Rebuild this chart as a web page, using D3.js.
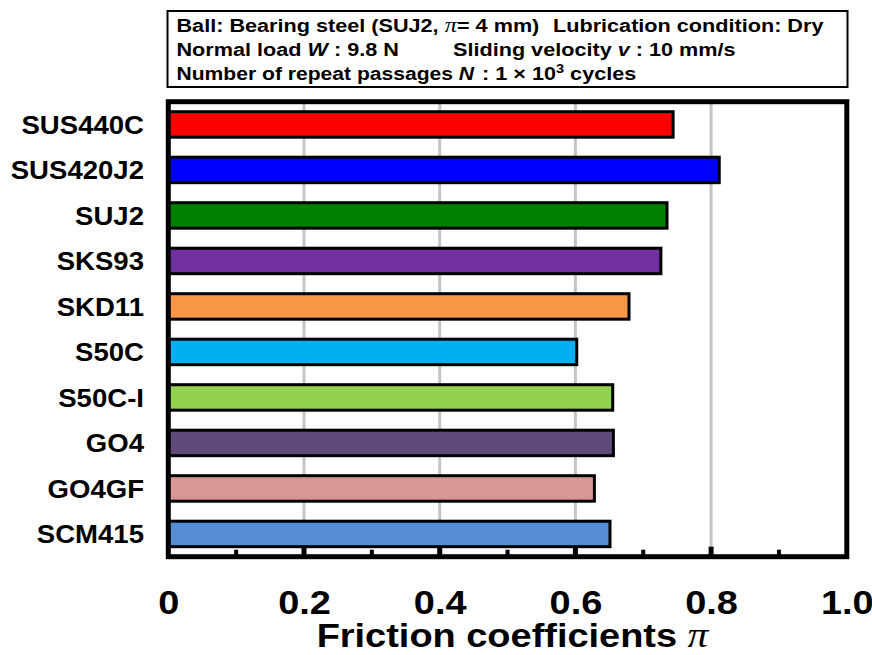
<!DOCTYPE html>
<html><head><meta charset="utf-8">
<script src="https://cdn.jsdelivr.net/npm/d3@7"></script>
<style>
body{margin:0;background:#fff;}
text{font-family:"Liberation Sans",Arial,sans-serif;font-weight:bold;}
.pi{font-family:"Liberation Serif","Times New Roman",serif;font-style:italic;font-weight:normal;}
</style></head><body>
<svg id="chart" width="872" height="655"></svg>
<script>
const categories = ["SUS440C","SUS420J2","SUJ2","SKS93","SKD11","S50C","S50C-I","GO4","GO4GF","SCM415"];
const frictionValues = [0.744,0.812,0.735,0.726,0.679,0.602,0.655,0.656,0.628,0.651];
const barColors = ["#ff0000","#0000ff","#008000","#7030a0","#f79646","#00b0f0","#92d050","#604a7b","#d99694","#558ed5"];
const tickLabels = ["0","0.2","0.4","0.6","0.8","1.0"];
const majorTicks = [0.2,0.4,0.6,0.8];
const minorTicks = [0.1,0.3,0.5,0.7,0.9];

const svg = d3.select("#chart");
const L = 168.3, R = 846.8, T = 101.7, B = 556.7;
const x = d3.scaleLinear().domain([0,1]).range([L,R]);
const y = d3.scaleBand().domain(categories).range([T,B]).paddingInner(0.44).paddingOuter(0.22);

// header box
svg.append("rect").attr("x",167.5).attr("y",11).attr("width",680).attr("height",76)
  .attr("fill","#fff").attr("stroke","#000").attr("stroke-width",2);
const hdr = svg.append("g").attr("font-size",18.5);
const HS = 1.17;
function seg(x0,y0,s){ return hdr.append("text").attr("transform",`translate(${x0},${y0}) scale(${s||HS},1)`); }
// line 1
let t = seg(176.5,31.5);
t.append("tspan").text("Ball: Bearing steel (SUJ2, ");
t.append("tspan").attr("class","pi").attr("font-size",21).text("π");
t.append("tspan").text("= 4 mm)");
seg(553,31.5).text("Lubrication condition: Dry");
// line 2
t = seg(176.5,56);
t.append("tspan").text("Normal load ");
t.append("tspan").attr("font-style","italic").text("W");
t.append("tspan").text(" : 9.8 N");
t = seg(453,56);
t.append("tspan").text("Sliding velocity ");
t.append("tspan").attr("font-style","italic").text("v");
t.append("tspan").text(" : 10 mm/s");
// line 3
t = seg(176.5,80,1.14);
t.append("tspan").text("Number of repeat passages ");
t.append("tspan").attr("font-style","italic").text("N");
t = seg(482,80);
t.append("tspan").text(": 1 × 10");
t.append("tspan").attr("font-size",12.5).attr("dy",-7).text("3");
t.append("tspan").attr("dy",7).text(" cycles");

// gridlines
svg.append("g").selectAll("line").data(majorTicks).join("line")
  .attr("x1",d=>x(d)).attr("x2",d=>x(d)).attr("y1",T).attr("y2",B)
  .attr("stroke","#c4c4c4").attr("stroke-width",3);

// bars
svg.append("g").selectAll("rect").data(categories).join("rect")
  .attr("x",x(0)).attr("y",d=>y(d))
  .attr("width",(d,i)=>x(frictionValues[i])-x(0))
  .attr("height",y.bandwidth())
  .attr("fill",(d,i)=>barColors[i])
  .attr("stroke","#000").attr("stroke-width",3);

// inner ticks
svg.append("g").selectAll("line").data(majorTicks).join("line")
  .attr("x1",d=>x(d)).attr("x2",d=>x(d)).attr("y1",B).attr("y2",B-10)
  .attr("stroke","#000").attr("stroke-width",5);
svg.append("g").selectAll("line").data(minorTicks).join("line")
  .attr("x1",d=>x(d)).attr("x2",d=>x(d)).attr("y1",B).attr("y2",B-7)
  .attr("stroke","#000").attr("stroke-width",4);

// frame
svg.append("rect").attr("x",L).attr("y",T).attr("width",R-L).attr("height",B-T)
  .attr("fill","none").attr("stroke","#000").attr("stroke-width",5);

// x axis labels
const xAxis = d3.axisBottom(x).tickValues([0,0.2,0.4,0.6,0.8,1.0])
  .tickFormat((d,i)=>tickLabels[i]).tickSize(0).tickPadding(0);
const gx = svg.append("g").attr("transform",`translate(0,${B})`).call(xAxis);
gx.select(".domain").remove();
gx.selectAll("text").attr("font-family","'Liberation Sans',Arial,sans-serif")
  .attr("font-weight","bold").attr("font-size",33).attr("fill","#000")
  .attr("dy",null).attr("y",0).attr("transform","translate(0,57.5) scale(1.15,1)");

// y axis labels
const yAxis = d3.axisLeft(y).tickSize(0).tickPadding(0);
const gy = svg.append("g").attr("transform",`translate(144,0)`).call(yAxis);
gy.select(".domain").remove();
gy.selectAll("text").attr("font-family","'Liberation Sans',Arial,sans-serif")
  .attr("font-weight","bold").attr("font-size",26).attr("fill","#000")
  .attr("x",0).attr("dy","0.36em").attr("transform","scale(1.06,1)");

// axis title
t = svg.append("text").attr("transform","translate(512.5,647) scale(1.15,1)")
  .attr("text-anchor","middle").attr("font-size",33);
t.append("tspan").text("Friction coefficients ");
t.append("tspan").attr("class","pi").attr("font-size",36).text("π");
</script></body></html>
